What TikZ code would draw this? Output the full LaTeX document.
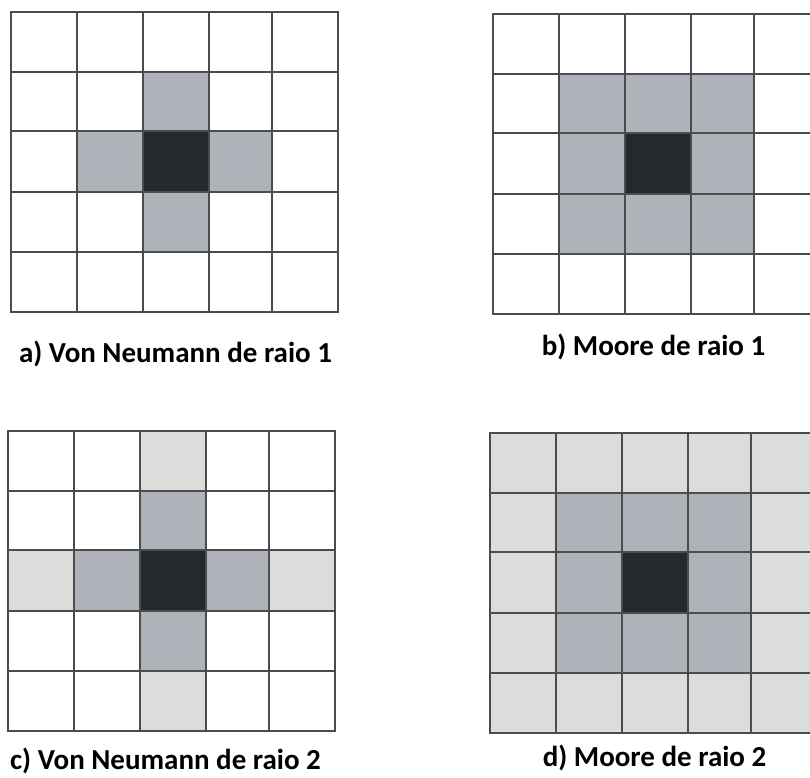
\documentclass[tikz,border=0pt]{standalone}
\usepackage{fontspec}
\setmainfont{Carlito}
\definecolor{cw}{HTML}{FFFFFF}
\definecolor{cg}{HTML}{B0B2B9}
\definecolor{ck}{HTML}{25292C}
\definecolor{cl}{HTML}{DCDCDA}
\definecolor{gridline}{HTML}{4A4C4E}
\tikzset{
  gridstroke/.style={draw=gridline,line width=1.8pt,line cap=rect},
  caption/.style={font=\bfseries\fontsize{29}{34}\selectfont,anchor=base,inner sep=0pt}
}
\newcommand\nbgrid[3]{%
  \begin{scope}[shift={(#1,#2)}]
    \foreach \rowcells [count=\j from 0] in {#3} {
      \foreach \cc [count=\i from 0] in \rowcells {
        \pgfmathsetmacro\xa{{0,66,132,198,261,327}[\i]}
        \pgfmathsetmacro\xb{{0,66,132,198,261,327}[\i+1]}
        \pgfmathsetmacro\ya{{0,60,119,180,240,300}[\j]}
        \pgfmathsetmacro\yb{{0,60,119,180,240,300}[\j+1]}
        \fill[c\cc] (\xa,\ya) rectangle (\xb,\yb);
      }
    }
    \foreach \x in {0,66,132,198,261,327} \draw[gridstroke] (\x,0) -- (\x,300);
    \foreach \y in {0,60,119,180,240,300} \draw[gridstroke] (0,\y) -- (327,\y);
  \end{scope}}
\begin{document}
\begin{tikzpicture}[x=1pt,y=-1pt]
  \useasboundingbox (0,0) rectangle (810,777);
  \fill[white] (0,0) rectangle (810,777);
  \clip (0,0) rectangle (810,777);
  \nbgrid{11}{12}{{w,w,w,w,w},{w,w,g,w,w},{w,g,k,g,w},{w,w,g,w,w},{w,w,w,w,w}}
  \nbgrid{493}{14}{{w,w,w,w,w},{w,g,g,g,w},{w,g,k,g,w},{w,g,g,g,w},{w,w,w,w,w}}
  \nbgrid{8}{431}{{w,w,l,w,w},{w,w,g,w,w},{l,g,k,g,l},{w,w,g,w,w},{w,w,l,w,w}}
  \nbgrid{490}{433}{{l,l,l,l,l},{l,g,g,g,l},{l,g,k,g,l},{l,g,g,g,l},{l,l,l,l,l}}
  \node[caption] (capa) at (175.5,362) {a) Von Neumann de raio 1};
  \node[caption] (capb) at (653.5,355) {b) Moore de raio 1};
  \node[caption] (capc) at (165.5,769) {c) Von Neumann de raio 2};
  \node[caption] (capd) at (654.5,766) {d) Moore de raio 2};
\end{tikzpicture}
\end{document}
